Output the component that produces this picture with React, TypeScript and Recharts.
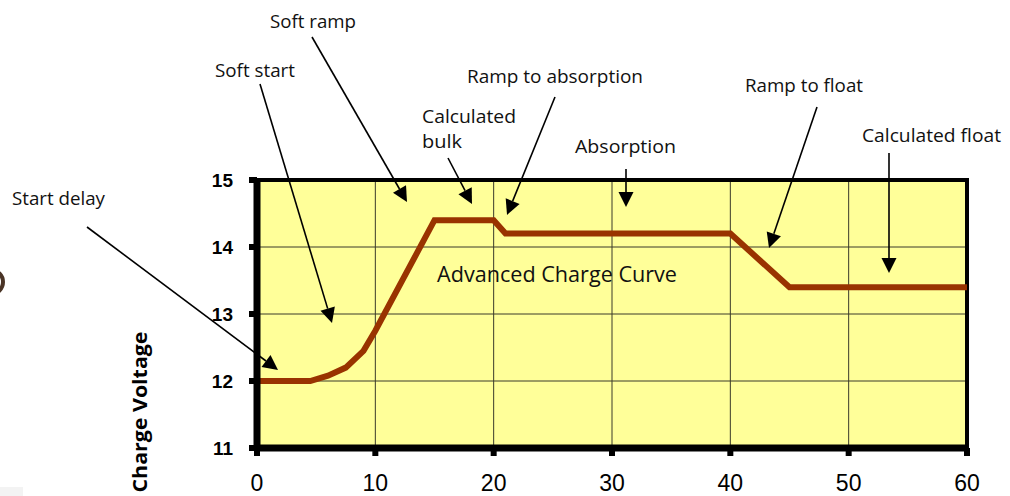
import React from "react";
import {
  LineChart,
  Line,
  XAxis,
  YAxis,
  CartesianGrid,
  ReferenceLine,
} from "recharts";

// ---- data ----
const timeValues = [0, 4.5, 6, 7.5, 9, 10, 15, 20, 21, 40, 45, 60];
const voltageValues = [12, 12, 12.08, 12.2, 12.45, 12.75, 14.4, 14.4, 14.2, 14.2, 13.4, 13.4];
const xTicks = [0, 10, 20, 30, 40, 50, 60];
const yTicks = [11, 12, 13, 14, 15];
const yAxisTitle = "Charge Voltage";
const chartTitle = "Advanced Charge Curve";
const annotationLabels = [
  "Start delay",
  "Soft start",
  "Soft ramp",
  "Calculated bulk",
  "Ramp to absorption",
  "Absorption",
  "Ramp to float",
  "Calculated float",
];

const chartData = timeValues.map((t, i) => ({ t, v: voltageValues[i] }));

// ---- layout (pixel positions of annotation texts/arrows) ----
type Ann = {
  lines: { x: number; y: number; w: number }[];
  from: [number, number];
  tip: [number, number];
};
const annLayout: Ann[] = [
  { lines: [{ x: 12, y: 205, w: 93 }], from: [87, 227], tip: [278, 370] },
  { lines: [{ x: 215, y: 77, w: 80 }], from: [260, 84], tip: [332, 323] },
  { lines: [{ x: 270, y: 28, w: 86 }], from: [312, 37], tip: [407, 202] },
  {
    lines: [
      { x: 422, y: 123, w: 94 },
      { x: 422, y: 148, w: 40 },
    ],
    from: [448, 158],
    tip: [472, 204],
  },
  { lines: [{ x: 467, y: 83, w: 176 }], from: [555, 97], tip: [507, 215] },
  { lines: [{ x: 575, y: 153, w: 101 }], from: [626, 169], tip: [626, 207] },
  { lines: [{ x: 745, y: 92, w: 118 }], from: [817, 107], tip: [769, 248] },
  { lines: [{ x: 862, y: 142, w: 139 }], from: [889, 153], tip: [889, 273] },
];

function Arrow({ from, tip }: { from: [number, number]; tip: [number, number] }) {
  const dx = tip[0] - from[0];
  const dy = tip[1] - from[1];
  const len = Math.sqrt(dx * dx + dy * dy);
  const ux = dx / len;
  const uy = dy / len;
  const hl = 15;
  const hw = 7.5;
  const bx = tip[0] - ux * hl;
  const by = tip[1] - uy * hl;
  const px = -uy;
  const py = ux;
  const pts = `${tip[0]},${tip[1]} ${bx + px * hw},${by + py * hw} ${bx - px * hw},${by - py * hw}`;
  return (
    <g>
      <line x1={from[0]} y1={from[1]} x2={bx} y2={by} stroke="#000" strokeWidth={1.6} />
      <polygon points={pts} fill="#000" />
    </g>
  );
}

const YTick = (props: any) => {
  const { x, y, payload } = props;
  return (
    <text
      x={x}
      y={y}
      dy={7}
      textAnchor="end"
      fontFamily="'Liberation Sans', Arial, sans-serif"
      fontWeight="bold"
      fontSize={19}
      fill="#000"
    >
      {payload.value}
    </text>
  );
};

const XTick = (props: any) => {
  const { x, y, payload } = props;
  return (
    <text
      x={x}
      y={y}
      dy={33}
      textAnchor="middle"
      fontFamily="'Liberation Sans', Arial, sans-serif"
      fontSize={23}
      fill="#000"
    >
      {payload.value}
    </text>
  );
};

export default function App() {
  const annFont = "'Open Sans', 'Noto Sans', sans-serif";
  return (
    <div style={{ position: "absolute", left: 0, top: 0, width: 1010, height: 496, background: "#fff" }}>
      <div style={{ position: "absolute", left: 0, top: 0 }}>
        <LineChart
          width={1010}
          height={496}
          data={chartData}
          margin={{ top: 180, right: 43, bottom: 0, left: 197 }}
        >
          <CartesianGrid
            fill="#FFFF99"
            fillOpacity={1}
            stroke="#3a3a2a"
            strokeWidth={1}
            horizontalValues={yTicks}
            verticalValues={xTicks}
          />
          <XAxis
            dataKey="t"
            type="number"
            domain={[0, 60]}
            ticks={xTicks}
            height={48}
            axisLine={{ stroke: "#000", strokeWidth: 7 }}
            tickLine={{ stroke: "#000", strokeWidth: 6 }}
            tickSize={8}
            tickMargin={2}
            tick={<XTick />}
            interval={0}
          />
          <YAxis
            dataKey="v"
            type="number"
            domain={[11, 15]}
            ticks={yTicks}
            width={60}
            axisLine={{ stroke: "#000", strokeWidth: 7 }}
            tickLine={{ stroke: "#000", strokeWidth: 6 }}
            tickSize={8}
            tickMargin={16}
            tick={<YTick />}
            interval={0}
          />
          <ReferenceLine y={15} stroke="#000" strokeWidth={4} strokeLinecap="square" />
          <ReferenceLine x={60} stroke="#000" strokeWidth={4} strokeLinecap="square" />
          <Line
            type="linear"
            dataKey="v"
            stroke="#993300"
            strokeWidth={6}
            dot={false}
            activeDot={false}
            isAnimationActive={false}
            strokeLinejoin="miter"
          />
        </LineChart>
      </div>
      <svg
        width={1010}
        height={496}
        style={{ position: "absolute", left: 0, top: 0, pointerEvents: "none" }}
      >
        <rect x={0} y={487} width={23} height={9} fill="#f3f3f3" />
        <circle cx={-9} cy={282} r={12} fill="none" stroke="#4a3426" strokeWidth={4} />
        <text
          x={437}
          y={282}
          fontFamily={annFont}
          fontSize={22}
          fill="#111"
          textLength={240}
          lengthAdjust="spacingAndGlyphs"
        >
          {chartTitle}
        </text>
        {annLayout.map((a, i) => {
          const label = annotationLabels[i];
          const parts = a.lines.length > 1 ? label.split(" ") : [label];
          return (
            <g key={i}>
              {a.lines.map((l, j) => (
                <text
                  key={j}
                  x={l.x}
                  y={l.y}
                  fontFamily={annFont}
                  fontSize={18}
                  fill="#111"
                  textLength={l.w}
                  lengthAdjust="spacingAndGlyphs"
                >
                  {parts[j]}
                </text>
              ))}
              <Arrow from={a.from} tip={a.tip} />
            </g>
          );
        })}
        <text
          x={147}
          y={412}
          transform="rotate(-90 147 412)"
          textAnchor="middle"
          fontFamily={annFont}
          fontWeight="bold"
          fontSize={19.5}
          fill="#000"
          textLength={161}
          lengthAdjust="spacingAndGlyphs"
        >
          {yAxisTitle}
        </text>
      </svg>
    </div>
  );
}
